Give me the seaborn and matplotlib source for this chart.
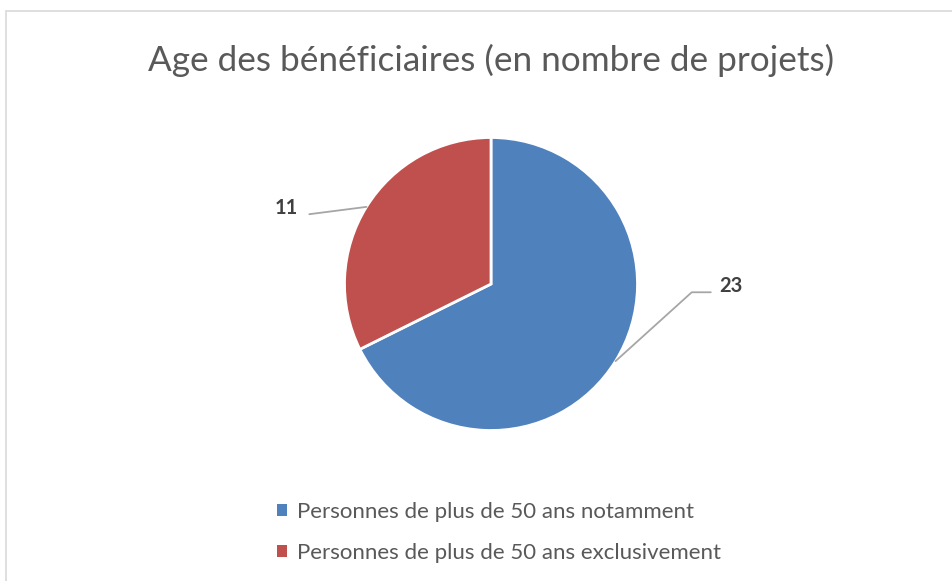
import matplotlib.pyplot as plt
import matplotlib.patches as mpatches
import numpy as np
import seaborn as sns

TITLE = "Age des bénéficiaires (en nombre de projets)"
CATEGORIES = ["Personnes de plus de 50 ans notamment", "Personnes de plus de 50 ans exclusivement"]
VALUES = [23, 11]
COLORS = ["#4F81BD", "#C0504D"]

W, H = 953, 581
CX, CY, R = 491, 284, 146.5  # pie centre / radius in pixels (y from top)

sns.set_theme(style="white")
plt.rcParams["font.family"] = ["Lato", "DejaVu Sans"]

fig = plt.figure(figsize=(W / 100, H / 100), dpi=100)
fig.patch.set_facecolor("white")

# light chart-area frame (runs off right/bottom edges)
fig.patches.append(mpatches.Rectangle((6 / W, -0.05), 1.1, 1 - 11 / H + 0.05,
                                      transform=fig.transFigure, fill=False,
                                      edgecolor="#D9D9D9", linewidth=1.2))

ax = fig.add_axes([0, 0, 1, 1])
wedges, _ = ax.pie(VALUES, colors=COLORS, startangle=90, counterclock=False,
                   wedgeprops=dict(edgecolor="white", linewidth=2))
ax.set_xlim(-CX / R, (W - CX) / R)
ax.set_ylim(-(H - CY) / R, CY / R)
ax.set_aspect("auto")
ax.axis("off")

# data labels with leader lines
line_kw = dict(color="#A6A6A6", linewidth=1.3)
label_kw = dict(fontsize=14.5, fontweight="bold", color="#404040", va="center")
for i, (w, v) in enumerate(zip(wedges, VALUES)):
    ang = np.deg2rad((w.theta1 + w.theta2) / 2)
    ex, ey = np.cos(ang), np.sin(ang)
    if i == 0:
        elbow = (ex + 0.52, ey + 0.47)
        end = (elbow[0] + 0.13, elbow[1])
        ax.plot([ex, elbow[0], end[0]], [ey, elbow[1], end[1]], **line_kw)
        ax.text(end[0] + 0.06, end[1] + 0.04, str(v), ha="left", **label_kw)
    else:
        end = (ex - 0.39, ey - 0.05)
        ax.plot([ex, end[0]], [ey, end[1]], **line_kw)
        ax.text(end[0] - 0.08, end[1] + 0.04, str(v), ha="right", **label_kw)

fig.text(CX / W, 1 - 60 / H, TITLE, ha="center", va="center", fontsize=25.3,
         color="#595959")

handles = [mpatches.Patch(facecolor=c, edgecolor="none") for c in COLORS]
leg = fig.legend(handles, CATEGORIES, loc="upper left",
                 bbox_to_anchor=(257 / W, 1 - 482 / H), frameon=False,
                 fontsize=16, handlelength=0.45, handleheight=0.45,
                 handletextpad=0.45, labelspacing=0.95, labelcolor="#595959")

fig.savefig("out.png", dpi=100)
